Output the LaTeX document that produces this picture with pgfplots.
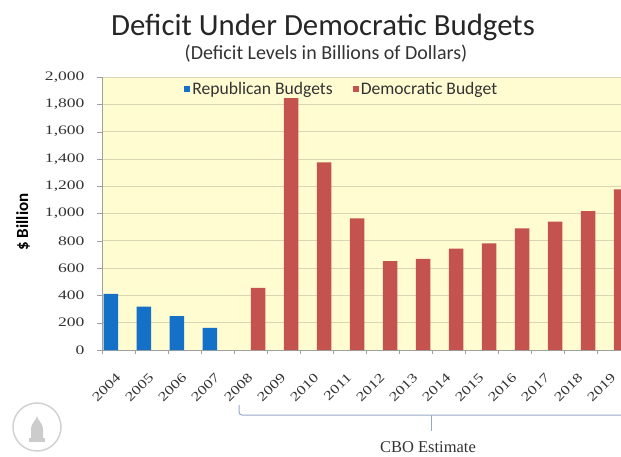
\documentclass[border=0pt]{standalone}
\usepackage{pgfplots}
\pgfplotsset{compat=1.18}
\usepackage{fontspec}
\setmainfont{Carlito}
\newfontfamily\serifnum{Liberation Serif}
\definecolor{repblue}{RGB}{21,113,200}
\definecolor{demred}{RGB}{196,82,78}
\definecolor{plotbg}{RGB}{255,252,210}
\definecolor{gridc}{RGB}{218,214,180}
\definecolor{axisc}{RGB}{160,160,160}
\definecolor{bracketc}{RGB}{150,170,200}
\begin{document}
\begin{tikzpicture}
\useasboundingbox (0,0) rectangle (621pt,456pt);
\clip (0,0) rectangle (621pt,456pt);
% title
\node[anchor=base, font=\fontsize{30.8}{30.8}\selectfont, text=black!85] at (323pt,420pt) {Deficit Under Democratic Budgets};
\node[anchor=base, font=\fontsize{20}{20}\selectfont, text=black!80] at (326pt,396pt) {(Deficit Levels in Billions of Dollars)};
% y label
\node[rotate=90, font=\fontsize{17}{17}\selectfont\bfseries] at (23pt,234pt) {\$ Billion};
\begin{axis}[
  at={(102pt,106pt)}, anchor=south west,
  width=519pt, height=273pt, scale only axis,
  xmin=-0.5, xmax=15.227, ymin=0, ymax=2000,
  axis x line*=bottom, axis y line*=left,
  axis line style={draw=axisc, line width=0.8pt, -},
  axis background/.style={fill=plotbg},
  ytick={0,200,...,2000},
  ymajorgrids, grid style={draw=gridc, line width=0.8pt},
  xtick={0,...,15},
  xticklabels={2004,2005,2006,2007,2008,2009,2010,2011,2012,2013,2014,2015,2016,2017,2018,2019},
  minor xtick={-0.5,0.5,...,15.5},
  every major x tick/.append style={draw=none},
  every minor x tick/.append style={draw=axisc},
  every major y tick/.append style={draw=axisc},
  tick align=outside, major tick length=5pt, minor tick length=4pt,
  /pgf/number format/assume math mode=true,
  /pgf/number format/1000 sep={,},
  ticklabel style={font=\serifnum\fontsize{13}{13}\selectfont, text=black!80},
  yticklabel={\scalebox{1.35}[1]{\pgfmathprintnumber{\tick}}},
  yticklabel style={xshift=-9pt},
  xticklabel={\scalebox{1.3}[1]{\pgfmathparse{int(2004+\tick)}\pgfmathresult}},
  xticklabel style={yshift=-20pt, rotate=45, anchor=east, inner sep=0pt},
  ybar, bar width=0.44,
  legend columns=2,
  legend style={at={(axis description cs:0.462,0.995)}, anchor=north, draw=none, fill=none,
    font=\fontsize{17.6}{17.6}\selectfont, text=black!80,
    /tikz/every even column/.append style={column sep=18pt}},
  legend image code/.code={\fill[#1] (0pt,-3pt) rectangle (6pt,3pt);},
]
\addplot[fill=repblue, draw=none, bar shift=-0.23] coordinates {(0,412) (1,318) (2,248) (3,162)};
\addplot[fill=demred, draw=none, bar shift=0.23] coordinates {(4,455) (5,1845) (6,1375) (7,965) (8,652) (9,667) (10,742) (11,781) (12,891) (13,940) (14,1018) (15,1177)};
\legend{Republican Budgets, Democratic Budget}
\end{axis}
% bracket
\draw[bracketc, line width=1pt, rounded corners=3pt] (239pt,51pt) -- (239pt,41pt) -- (630pt,41pt);
\draw[bracketc, line width=1pt] (431pt,41pt) -- (431pt,25pt);
\node[anchor=base, inner sep=0pt, font=\serifnum\fontsize{16.5}{16.5}\selectfont, text=black!80] at (428pt,4pt) {CBO Estimate};
% faint seal
\draw[gray!35, line width=1.5pt] (37pt,29pt) circle (24pt);
\fill[gray!40] (29pt,14pt) rectangle (45pt,18pt);
\fill[gray!40] (31pt,18pt) -- (31pt,26pt) .. controls (31pt,34pt) and (37pt,36pt) .. (37pt,40pt) .. controls (37pt,36pt) and (43pt,34pt) .. (43pt,26pt) -- (43pt,18pt) -- cycle;
\end{tikzpicture}
\end{document}
